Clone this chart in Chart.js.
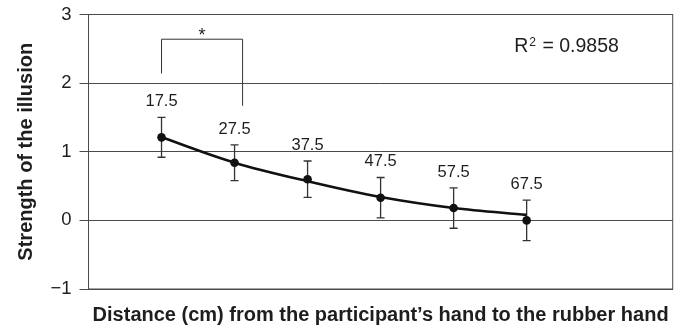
<!DOCTYPE html>
<html><head><meta charset="utf-8">
<script src="https://cdn.jsdelivr.net/npm/chart.js@4/dist/chart.umd.min.js"></script>
<style>html,body{margin:0;padding:0;background:#fff}#wrap{width:677px;height:332px}</style>
</head><body><div id="wrap"><canvas id="c" width="677" height="332"></canvas></div>
<script>
// ---- data ----
const distances = [17.5, 27.5, 37.5, 47.5, 57.5, 67.5];   // category labels (cm)
const positions = [1, 2, 3, 4, 5, 6];                      // slot on the x axis
const means     = [1.21, 0.84, 0.60, 0.33, 0.18, 0.00];    // strength of the illusion
const errors    = [0.29, 0.26, 0.265, 0.295, 0.295, 0.295];
const trend     = [1.21, 0.84, 0.57, 0.34, 0.18, 0.08];    // fitted curve values
const yTicks    = [-1, 0, 1, 2, 3];
const r2Value   = '0.9858';
const sigPair   = [0, 1];                                  // significant comparison (*)

const FAMILY = '"Liberation Sans", Arial, Helvetica, sans-serif';
const INK = '#1e1e1e';
const GRID = '#4a4a4a';

const extras = {
  id: 'extras',
  beforeDatasetsDraw(chart) {
    const {ctx, chartArea: a, scales: {x, y}} = chart;
    ctx.save();
    // frame
    ctx.strokeStyle = GRID; ctx.lineWidth = 1;
    ctx.strokeRect(a.left, a.top, a.right - a.left, a.bottom - a.top);
    // error bars
    ctx.strokeStyle = '#333'; ctx.lineWidth = 1.3;
    for (let i = 0; i < means.length; i++) {
      const px = x.getPixelForValue(positions[i]);
      const t = y.getPixelForValue(means[i] + errors[i]);
      const b = y.getPixelForValue(means[i] - errors[i]);
      ctx.beginPath();
      ctx.moveTo(px, t); ctx.lineTo(px, b);
      ctx.moveTo(px - 4, t); ctx.lineTo(px + 4, t);
      ctx.moveTo(px - 4, b); ctx.lineTo(px + 4, b);
      ctx.stroke();
    }
    ctx.restore();
  },
  afterDraw(chart) {
    const {ctx, scales: {x, y}} = chart;
    ctx.save();
    ctx.fillStyle = INK;
    // distance labels above error bars
    ctx.font = '16.5px ' + FAMILY;
    ctx.textAlign = 'center'; ctx.textBaseline = 'alphabetic';
    for (let i = 0; i < means.length; i++) {
      const px = x.getPixelForValue(positions[i]);
      const t = y.getPixelForValue(means[i] + errors[i]);
      ctx.fillText(String(distances[i]), px, t - 11);
    }
    // significance bracket
    const x1 = x.getPixelForValue(positions[sigPair[0]]);
    const x2 = x.getPixelForValue(positions[sigPair[1]] + 0.11);
    const yTop = y.getPixelForValue(2.64);
    const yL = y.getPixelForValue(2.14);
    const yR = y.getPixelForValue(1.67);
    ctx.strokeStyle = '#333'; ctx.lineWidth = 1;
    ctx.beginPath();
    ctx.moveTo(x1, yL); ctx.lineTo(x1, yTop); ctx.lineTo(x2, yTop); ctx.lineTo(x2, yR);
    ctx.stroke();
    ctx.font = '18px ' + FAMILY;
    ctx.fillText('*', (x1 + x2) / 2, yTop + 2);
    // R^2
    const rx = x.getPixelForValue(5.83);
    const ry = y.getPixelForValue(2.449);
    ctx.textAlign = 'left';
    ctx.font = '19.5px ' + FAMILY;
    ctx.fillText('R', rx, ry);
    let cx = rx + ctx.measureText('R').width + 1;
    ctx.font = '12px ' + FAMILY;
    ctx.fillText('2', cx, ry - 6.5);
    cx += ctx.measureText('2').width + 1;
    ctx.font = '19.5px ' + FAMILY;
    ctx.fillText(' = ' + r2Value, cx, ry);
    ctx.restore();
  }
};

new Chart(document.getElementById('c'), {
  type: 'scatter',
  data: {
    datasets: [
      {
        type: 'scatter',
        data: positions.map((p, i) => ({x: p, y: means[i]})),
        pointRadius: 4.3, pointBackgroundColor: '#111', pointBorderColor: '#111',
        pointBorderWidth: 0, showLine: false
      },
      {
        type: 'line',
        data: positions.map((p, i) => ({x: p, y: trend[i]})),
        borderColor: '#111', borderWidth: 2.6, pointRadius: 0,
        cubicInterpolationMode: 'monotone', fill: false, showLine: true
      }
    ]
  },
  options: {
    responsive: false, animation: false, devicePixelRatio: 1,
    layout: {padding: {left: 0, right: 2, top: 14.5, bottom: 0}},
    plugins: {legend: {display: false}, tooltip: {enabled: false}},
    scales: {
      x: {
        type: 'linear', min: 0, max: 8,
        ticks: {display: false},
        grid: {display: false},
        border: {display: true, color: GRID, width: 1},
        title: {
          display: true,
          text: 'Distance (cm) from the participant\u2019s hand to the rubber hand',
          font: {size: 20, weight: 'bold', family: FAMILY}, color: INK,
          padding: {top: 0, bottom: 5}
        },
        afterFit: s => { s.height = 43; s.paddingLeft = 0; s.paddingRight = 0; }
      },
      y: {
        min: -1, max: 3,
        afterBuildTicks: s => { s.ticks = yTicks.map(v => ({value: v})); },
        ticks: {
          font: {size: 18.5, family: FAMILY}, color: INK, padding: 8,
          callback: v => String(v).replace('-', '\u2212')
        },
        grid: {color: GRID, lineWidth: 1, tickLength: 9, drawTicks: true},
        border: {display: true, color: GRID, width: 1},
        title: {
          display: true, text: 'Strength of the illusion',
          font: {size: 20, weight: 'bold', family: FAMILY}, color: INK,
          padding: {top: 14, bottom: 0}
        },
        afterFit: s => { s.width = 88.5; s.paddingTop = 0; s.paddingBottom = 0; }
      }
    }
  },
  plugins: [extras]
});
</script>
</body></html>
